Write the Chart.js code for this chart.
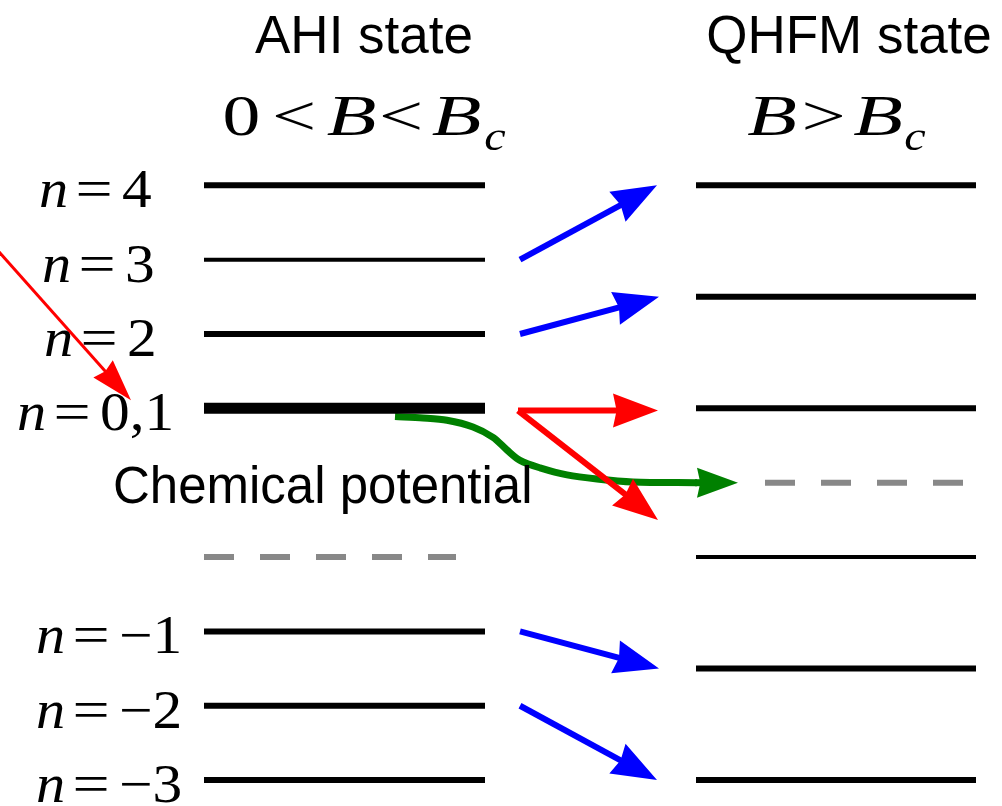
<!DOCTYPE html>
<html lang="en">
<head>
<meta charset="UTF-8">
<title>AHI state vs QHFM state</title>
<script src="https://cdn.jsdelivr.net/npm/chart.js"></script>
<style>
  html, body { margin: 0; padding: 0; background: #fff; }
  #wrap { width: 1002px; height: 806px; }
</style>
</head>
<body>
<div id="wrap"><canvas id="levels" width="1002" height="806"></canvas></div>
<script>
// energy of each Landau level, in units of the level spacing
const ahiLevels = [4, 3, 2, 1, -2, -3, -4];
const ahiLabels = ['4', '3', '2', '0,1', '−1', '−2', '−3'];
const qhfmLevels = [4, 2.5, 1, -1, -2.5, -4];
const ahiMu = -1;
const qhfmMu = 0;

// transitions, [x, E] tail -> tip
const blueFrom = [[520, 3], [520, 2], [520, -2], [520, -3]];
const blueTo = [[657, 4], [659, 2.5], [659, -2.5], [657, -4]];
const redFrom = [[518, 0.97], [518, 0.97]];
const redTo = [[658, 0.97], [658, -0.5]];
const pointerFrom = [-2, 3.12];
const pointerTo = [131, 1.11];

// path of the chemical potential (green)
const muPathX = [395, 423, 447, 473, 493, 507, 520, 540, 567, 597, 633, 697];
const muPathE = [0.89, 0.87, 0.84, 0.75, 0.61, 0.44, 0.30, 0.20, 0.105, 0.05, 0.01, 0];
const muTip = [738, 0];

// column extents and line styles
const ahiX = [204, 485];
const qhfmX = [696, 976];
const ahiMuX = [204, 456];
const qhfmMuX = [765, 964];
const ahiWidths = [6, 4, 6, 11, 6, 6, 6];
const qhfmWidths = [6, 6, 6, 4, 6, 6];

const yTop = 4 + 185.3 / 74.35;
const yBottom = yTop - 806 / 74.35;

function levelLine(xr, e, w) {
    return {
        data: [{ x: xr[0], y: e }, { x: xr[1], y: e }],
        borderColor: '#000', borderWidth: w, borderCapStyle: 'butt',
        showLine: true, pointRadius: 0
    };
}

const datasets = [];
ahiLevels.forEach((e, i) => datasets.push(levelLine(ahiX, e, ahiWidths[i])));
qhfmLevels.forEach((e, i) => datasets.push(levelLine(qhfmX, e, qhfmWidths[i])));
[[ahiMuX, ahiMu], [qhfmMuX, qhfmMu]].forEach(([xr, e]) => {
    const d = levelLine(xr, e, 6);
    d.borderColor = '#888';
    d.borderDash = [30, 26];
    datasets.push(d);
});
datasets.push({
    data: muPathX.map((x, i) => ({ x: x, y: muPathE[i] })),
    borderColor: '#008000', borderWidth: 7, borderCapStyle: 'butt',
    showLine: true, pointRadius: 0, tension: 0.3
});

// arrows and texts
const overlay = {
    id: 'overlay',
    afterDatasetsDraw(chart) {
        const { ctx, scales: { x, y } } = chart;
        const px = p => [x.getPixelForValue(p[0]), y.getPixelForValue(p[1])];

        function head(tip, ang, color, len, half) {
            const c = Math.cos(ang), s = Math.sin(ang);
            ctx.fillStyle = color;
            ctx.beginPath();
            ctx.moveTo(tip[0], tip[1]);
            ctx.lineTo(tip[0] - c * len - s * half, tip[1] - s * len + c * half);
            ctx.lineTo(tip[0] - c * len * 0.92, tip[1] - s * len * 0.92);
            ctx.lineTo(tip[0] - c * len + s * half, tip[1] - s * len - c * half);
            ctx.closePath();
            ctx.fill();
        }
        function arrow(from, to, color, w, len, half) {
            const a = px(from), b = px(to);
            const ang = Math.atan2(b[1] - a[1], b[0] - a[0]);
            ctx.strokeStyle = color;
            ctx.lineWidth = w;
            ctx.lineCap = 'butt';
            ctx.beginPath();
            ctx.moveTo(a[0], a[1]);
            ctx.lineTo(b[0] - Math.cos(ang) * len * 0.85, b[1] - Math.sin(ang) * len * 0.85);
            ctx.stroke();
            head(b, ang, color, len, half);
        }

        ctx.save();
        const last = px([muPathX[muPathX.length - 1], muPathE[muPathE.length - 1]]);
        const gt = px(muTip);
        ctx.strokeStyle = '#008000';
        ctx.lineWidth = 7;
        ctx.beginPath();
        ctx.moveTo(last[0] - 2, last[1]);
        ctx.lineTo(gt[0] - 30, gt[1]);
        ctx.stroke();
        head(gt, Math.atan2(gt[1] - last[1], gt[0] - last[0]), '#008000', 41, 15);

        blueFrom.forEach((f, i) => arrow(f, blueTo[i], '#0000ff', 6, 45, 17));
        redFrom.forEach((f, i) => arrow(f, redTo[i], '#ff0000', 6, 45, 17));
        arrow(pointerFrom, pointerTo, '#ff0000', 3, 42, 13);
        ctx.restore();
    },
    afterDraw(chart) {
        const { ctx, scales: { y } } = chart;
        ctx.save();
        ctx.fillStyle = '#000';
        ctx.textBaseline = 'alphabetic';

        ctx.textAlign = 'center';
        ctx.font = '53px "Liberation Sans", Arial, sans-serif';
        ctx.fillText('AHI state', 364, 53);
        ctx.fillText('QHFM state', 849, 53);

        ctx.textAlign = 'left';
        ctx.font = '51px "Liberation Sans", Arial, sans-serif';
        ctx.fillText('Chemical potential', 113, 503);

        function glyph(t, cx, base, font, sx, align) {
            ctx.save();
            ctx.font = font;
            ctx.textAlign = align || 'center';
            ctx.translate(cx, base);
            ctx.scale(sx, 1);
            ctx.fillText(t, 0, 0);
            ctx.restore();
        }
        const rom = '56px "Liberation Serif", "Times New Roman", serif';
        const ita = 'italic 56px "Liberation Serif", "Times New Roman", serif';
        const sub = 'italic 42px "Liberation Serif", "Times New Roman", serif';

        // 0 < B < B_c
        glyph('0', 241.5, 135, rom, 1.35);
        glyph('<', 294, 135, rom, 1.4);
        glyph('B', 351.5, 135, ita, 1.45);
        glyph('<', 401, 135, rom, 1.4);
        glyph('B', 456.5, 135, ita, 1.45);
        glyph('c', 495, 150, sub, 1.15);
        // B > B_c
        glyph('B', 772, 135, ita, 1.45);
        glyph('>', 823.5, 135, rom, 1.4);
        glyph('B', 878, 135, ita, 1.45);
        glyph('c', 915, 150, sub, 1.15);

        // n = ... labels beside the AHI levels
        const labelLeft = [40, 43, 45, 18, 37, 37, 37];
        const nFont = 'italic 54px "Liberation Serif", "Times New Roman", serif';
        const vFont = '54px "Liberation Serif", "Times New Roman", serif';
        ahiLevels.forEach((e, i) => {
            const base = y.getPixelForValue(e) + 22;
            const x0 = labelLeft[i];
            glyph('n', x0 + 13.5, base, nFont, 1.08);
            glyph('=', x0 + 54, base, vFont, 1.22);
            glyph(ahiLabels[i], x0 + 82, base, vFont, 1.1, 'left');
        });
        ctx.restore();
    }
};

new Chart(document.getElementById('levels'), {
    type: 'scatter',
    data: { datasets: datasets },
    options: {
        responsive: false,
        devicePixelRatio: 1,
        animation: false,
        layout: { padding: 0 },
        plugins: { legend: { display: false }, tooltip: { enabled: false } },
        scales: {
            x: { type: 'linear', min: 0, max: 1002, display: false },
            y: { type: 'linear', min: yBottom, max: yTop, display: false }
        }
    },
    plugins: [overlay]
});
</script>
</body>
</html>
